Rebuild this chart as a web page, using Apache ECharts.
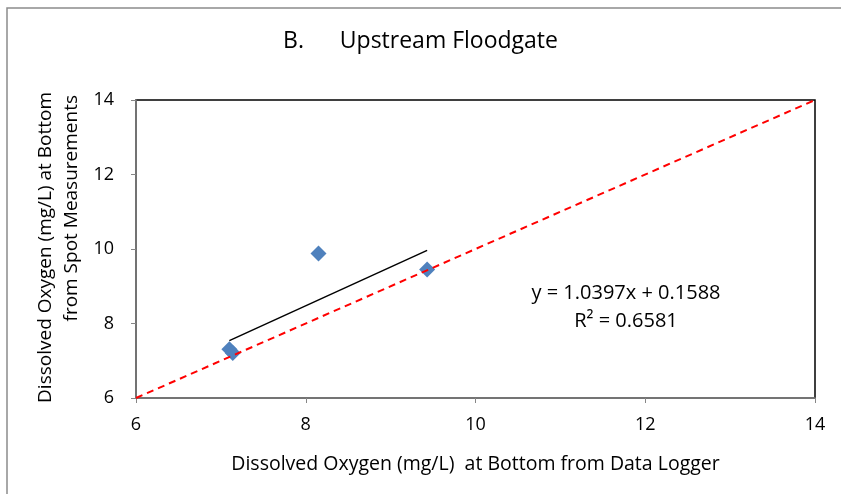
<!DOCTYPE html>
<html><head><meta charset="utf-8">
<script src="https://cdn.jsdelivr.net/npm/echarts@6/dist/echarts.min.js"></script>
<style>html,body{margin:0;padding:0;background:#fff}#c{width:841px;height:494px}</style>
</head><body><div id="c"></div>
<script>
const loggerDO = [7.10, 7.14, 8.15, 9.43];
const spotDO = [7.31, 7.21, 9.88, 9.45];
const slope = 1.0397, intercept = 0.1588, r2 = 0.6581;
const axisTicks = [6, 8, 10, 12, 14];
const oneToOne = [[6, 6], [14, 14]];
const yNameLines = ['Dissolved Oxygen (mg/L) at Bottom', 'from Spot Measurements'];

const FONT = 'Open Sans';
const xmin = Math.min(...loggerDO), xmax = Math.max(...loggerDO);
const trend = [[xmin, slope * xmin + intercept], [xmax, slope * xmax + intercept]];
const pts = loggerDO.map((x, i) => [x, spotDO[i]]);

const chart = echarts.init(document.getElementById('c'));
chart.setOption({
  animation: false,
  backgroundColor: '#fff',
  textStyle: {fontFamily: FONT},
  title: {
    text: 'B.      Upstream Floodgate',
    left: 'center', top: 25,
    textStyle: {fontFamily: FONT, fontSize: 23, fontWeight: 'normal', color: '#000'}
  },
  grid: {left: 136, top: 100, right: 26, bottom: 96, show: true, borderColor: '#000', borderWidth: 1.5, backgroundColor: 'transparent'},
  xAxis: {
    type: 'value', min: axisTicks[0], max: axisTicks[axisTicks.length - 1], interval: 2,
    name: 'Dissolved Oxygen (mg/L)  at Bottom from Data Logger',
    nameLocation: 'middle', nameGap: 56,
    nameTextStyle: {fontFamily: FONT, fontSize: 19.5, color: '#000'},
    axisLine: {lineStyle: {color: '#868686', width: 1.5}},
    axisTick: {show: true, inside: false, length: 5, lineStyle: {color: '#868686'}},
    axisLabel: {fontFamily: FONT, fontSize: 18, color: '#000', margin: 18},
    splitLine: {show: false}
  },
  yAxis: {
    type: 'value', min: axisTicks[0], max: axisTicks[axisTicks.length - 1], interval: 2,
    axisLine: {lineStyle: {color: '#868686', width: 1.5}},
    axisTick: {show: true, inside: false, length: 5, lineStyle: {color: '#868686'}},
    axisLabel: {fontFamily: FONT, fontSize: 18, color: '#000', margin: 22},
    splitLine: {show: false}
  },
  graphic: [
    {type: 'rect', x: 7, y: 8, shape: {x: 0, y: 0, width: 900, height: 600}, style: {fill: 'none', stroke: '#8c8c8c', lineWidth: 1.5}, silent: true, z: -10},
    {type: 'text', x: 46, y: 92, rotation: Math.PI / 2, style: {text: yNameLines[0], align: 'right', verticalAlign: 'middle', font: '19px "Open Sans"', fill: '#000'}},
    {type: 'text', x: 72, y: 95, rotation: Math.PI / 2, style: {text: yNameLines[1], align: 'right', verticalAlign: 'middle', font: '19px "Open Sans"', fill: '#000'}},
    {type: 'text', x: 626, y: 293, style: {text: 'y = 1.0397x + 0.1588', align: 'center', verticalAlign: 'middle', font: '20px "Open Sans"', fill: '#000'}},
    {type: 'text', x: 626, y: 321, style: {text: 'R² = 0.6581', align: 'center', verticalAlign: 'middle', font: '20px "Open Sans"', fill: '#000'}}
  ],
  series: [
    {type: 'line', data: oneToOne, symbol: 'none', lineStyle: {color: '#ff0000', width: 2, type: [7, 5]}, z: 3, silent: true},
    {type: 'line', data: trend, symbol: 'none', lineStyle: {color: '#000', width: 1.5}, z: 2, silent: true},
    {type: 'scatter', data: pts, symbol: 'diamond', symbolSize: 16, itemStyle: {color: '#4f81bd', opacity: 1}, z: 1}
  ]
});
</script></body></html>
